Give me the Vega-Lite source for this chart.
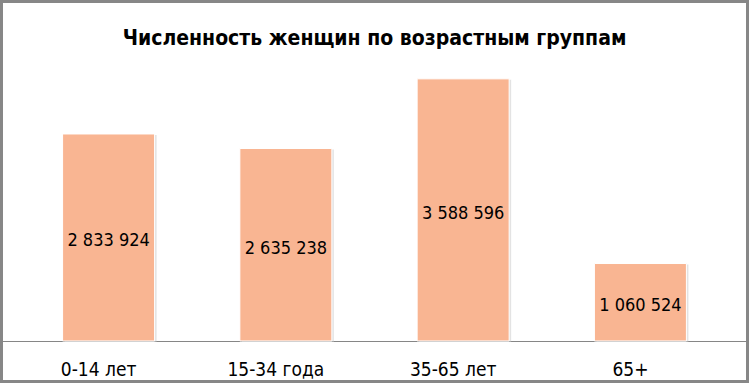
{
  "$schema": "https://vega.github.io/schema/vega-lite/v6.json",
  "width": 749,
  "height": 383,
  "autosize": "none",
  "padding": 0,
  "background": "white",
  "title": {
    "text": "Численность женщин по возрастным группам",
    "frame": "group",
    "offset": -49,
    "fontSize": 21,
    "fontWeight": "bold",
    "font": "Liberation Sans Narrow, DejaVu Sans Condensed, sans-serif",
    "color": "#000000"
  },
  "config": {
    "view": {"stroke": "#878787", "strokeWidth": 6},
    "locale": {"number": {"decimal": ",", "thousands": " ", "grouping": [3], "currency": ["", ""]}}
  },
  "data": {
    "values": [
      {"group": "0-14 лет", "value": 2833924},
      {"group": "15-34 года", "value": 2635238},
      {"group": "35-65 лет", "value": 3588596},
      {"group": "65+", "value": 1060524}
    ]
  },
  "encoding": {
    "x": {
      "field": "group",
      "type": "nominal",
      "sort": null,
      "scale": {"paddingInner": 0.481, "paddingOuter": 0.353},
      "axis": {
        "title": null,
        "offset": -42,
        "orient": "bottom",
        "domainColor": "#868686",
        "domainWidth": 1,
        "ticks": false,
        "labelAngle": 0,
        "labelPadding": 19,
        "labelOffset": -10,
        "labelFontSize": 19,
        "labelFont": "Liberation Sans Narrow, DejaVu Sans Condensed, sans-serif",
        "labelColor": "#000000",
        "grid": false
      }
    }
  },
  "layer": [
    {
      "mark": {"type": "bar", "color": "#c8c8c8", "opacity": 0.5, "xOffset": 2, "yOffset": 1},
      "encoding": {
        "y": {"field": "value", "type": "quantitative", "scale": {"domain": [-575000, 4668000], "nice": false}, "axis": null}
      }
    },
    {
      "mark": {"type": "bar", "color": "#F9B592", "stroke": "white", "strokeWidth": 1},
      "encoding": {
        "y": {"field": "value", "type": "quantitative", "scale": {"domain": [-575000, 4668000], "nice": false}, "axis": null}
      }
    },
    {
      "mark": {"type": "text", "fontSize": 18, "font": "Liberation Sans Narrow, DejaVu Sans Condensed, sans-serif", "color": "#000000", "baseline": "middle", "dy": 4},
      "encoding": {
        "y": {"field": "value", "type": "quantitative", "stack": "zero", "bandPosition": 0.5, "scale": {"domain": [-575000, 4668000], "nice": false}, "axis": null},
        "text": {"field": "value", "type": "quantitative", "format": ",d"}
      }
    }
  ]
}
